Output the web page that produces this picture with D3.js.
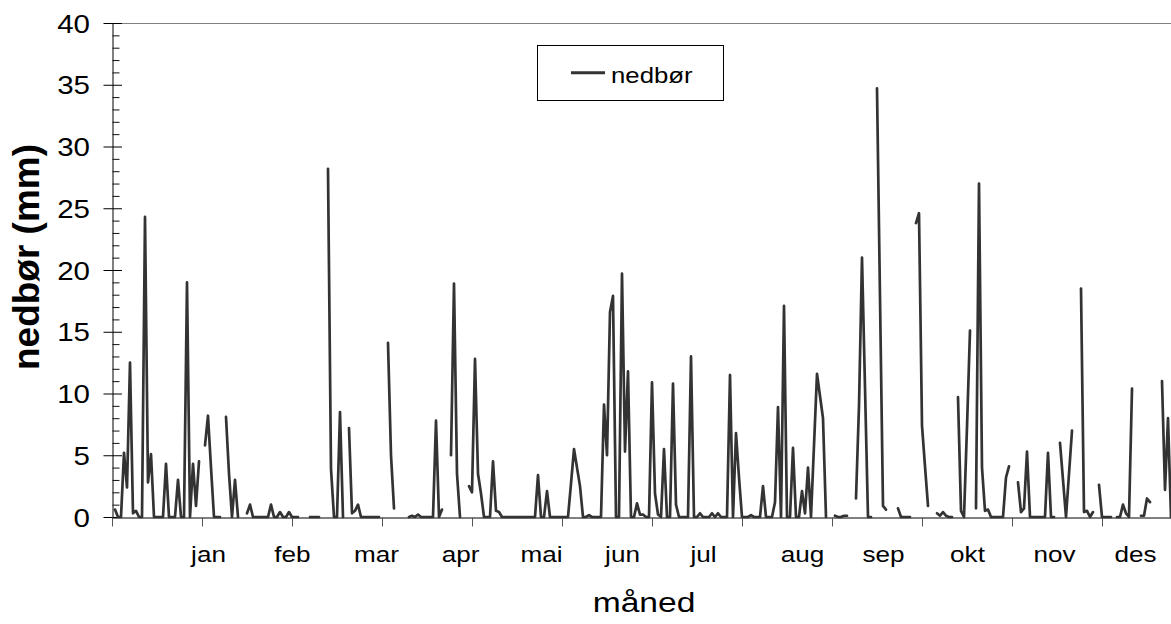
<!DOCTYPE html>
<html><head><meta charset="utf-8">
<script src="https://cdn.jsdelivr.net/npm/d3@7"></script>
<style>
body{margin:0;background:#fff;}
svg{display:block;font-family:Arial,"Liberation Sans",sans-serif;}
</style></head><body>
<svg id="chart" width="1171" height="624"></svg>
<script>
// daily precipitation (mm), null = missing
const nedbor = [
 null,0.6,0,0,5.2,2.4,12.5,0.3,0.5,0,
 0,24.3,2.8,5.1,0,0,0,0,4.3,0,
 0,0,3.0,0,0,19.0,0,4.3,0.9,4.5,
 null,5.8,8.2,4.0,0,0,0,null,8.1,3.5,
 0,3.0,0,null,null,0.3,1.0,0,0,0,
 0,0,0,1.0,0,0,0.4,0,0,0.4,
 0,0,0,null,null,null,0,0,0,0,
 null,null,28.2,3.9,0,0,8.5,0,null,7.2,
 0.3,0.5,1.0,0,0,0,0,0,0,0,
 null,null,14.1,5.0,0.7,null,null,null,null,0,
 0.1,0,0.2,0,0,0,0,0,7.8,0,
 0.6,null,null,5.0,18.9,3.5,0,null,null,2.5,
 2.0,12.8,3.5,1.9,0,0,0,4.5,0.5,0.4,
 0,0,0,0,0,0,0,0,0,0,
 0,0,3.4,0,0,2.1,0,0,0,0,
 0,0,0,2.7,5.5,4.0,2.5,0,0,0.15,
 0,0,0,0,9.1,5.0,16.6,17.9,0,0,
 19.7,5.3,11.8,0,0,1.1,0.2,0.2,0,0,
 10.9,1.9,0.2,0,5.5,0,0,10.8,1.0,0,
 0,0,0,13.0,0,0,0.3,0,0,0,
 0.3,0,0.3,0,0,0,11.5,0,6.8,3.2,
 0,0,0,0.15,0,0,0,2.5,0,0,
 0,1.2,8.9,0,17.1,0,0,5.6,0,0,
 2.1,0.3,4.0,0,5.8,11.6,9.8,8.0,0,null,
 null,0.1,0,0,0.1,0.1,null,null,1.5,9.0,
 21.0,10.5,0,0,null,34.7,17.8,0.9,0.6,null,
 null,null,0.7,0,0,0,0,null,23.8,24.6,
 7.4,4.1,0.9,null,null,0.3,0.1,0.4,0.1,0,
 0,null,9.7,0.5,0,7.3,15.1,null,0.7,27.0,
 4.0,0.5,0.6,0,0,0,0,0,3.2,4.1,
 null,null,2.8,0.4,0.7,5.3,0,0,0,0,
 0,0,5.2,0,0,null,6.0,3.0,0,3.5,
 7.0,null,null,18.5,0.4,0.5,0,0.4,null,2.6,
 0,0,0,0,null,0,0,1.0,0.3,0,
 10.4,null,null,0.1,0.1,1.5,1.2,null,null,null,
 11.0,2.2,8.0,0
];
const seriesName = "nedbør";
const monthLabels = ["jan","feb","mar","apr","mai","jun","jul","aug","sep","okt","nov","des"];
const monthLabelDay = [32,60,88,116,143,170,197,230,257,285,314,341];
const monthTickDay = [0,30,60,90,120,150,180,210,240,270,300,330];
const yMajorTicks = [0,5,10,15,20,25,30,35,40];
const yMinorTicks = d3.range(0,41,1).filter(v => v % 5 !== 0);
const xTitle = "måned";
const yTitle = "nedbør (mm)";

const svg = d3.select("#chart");
const plot = {left:112, right:1171, top:23, bottom:517};
const x = d3.scaleLinear().domain([0, 353]).range([plot.left, plot.right]);
const y = d3.scaleLinear().domain([0, 40]).range([plot.bottom, plot.top]);

// top border of plot area
svg.append("line")
  .attr("x1", plot.left).attr("x2", plot.right)
  .attr("y1", plot.top + 0.5).attr("y2", plot.top + 0.5)
  .attr("stroke", "#808080").attr("stroke-width", 1);

// clip
svg.append("clipPath").attr("id","clip").append("rect")
  .attr("x", plot.left).attr("y", plot.top - 5)
  .attr("width", plot.right - plot.left).attr("height", plot.bottom - plot.top + 10);

// y axis major
const yAx = svg.append("g").attr("transform", `translate(${plot.left + 0.5},0)`)
  .call(d3.axisLeft(y).tickValues(yMajorTicks).tickSize(9).tickSizeOuter(0));
yAx.select(".domain").attr("stroke", "#000");
yAx.selectAll(".tick line").attr("x1", 9.5).attr("stroke", "#000");
const sxY = 1.18;
yAx.selectAll(".tick text")
  .attr("x", -22.5 / sxY).attr("dy", "0.36em")
  .attr("transform", `scale(${sxY},1)`)
  .attr("font-size", 25).attr("font-family", "Arial, 'Liberation Sans', sans-serif")
  .attr("fill", "#000");

// y axis minor
const yMin = svg.append("g").attr("transform", `translate(${plot.left + 0.5},0)`)
  .call(d3.axisRight(y).tickValues(yMinorTicks).tickSize(7).tickFormat(""));
yMin.select(".domain").remove();
yMin.selectAll(".tick line").attr("stroke", "#111");

// x axis with ticks
const xAx = svg.append("g").attr("transform", `translate(0,${plot.bottom + 0.5})`)
  .call(d3.axisBottom(x).tickValues(monthTickDay).tickSize(9).tickSizeOuter(0).tickFormat(""));
xAx.select(".domain").attr("stroke", "#000");
xAx.selectAll(".tick line").attr("stroke", "#555");

// month labels
const sxX = 1.16;
const xLab = svg.append("g").attr("transform", `translate(0,${plot.bottom})`)
  .call(d3.axisBottom(x).tickValues(monthLabelDay).tickSize(0).tickFormat((d,i) => monthLabels[i]));
xLab.select(".domain").remove();
xLab.selectAll(".tick line").remove();
xLab.selectAll(".tick text")
  .attr("y", 44.7).attr("dy", 0)
  .attr("transform", `scale(${sxX},1)`)
  .attr("font-size", 22.5).attr("font-family", "Arial, 'Liberation Sans', sans-serif")
  .attr("fill", "#000");

// data line
const line = d3.line()
  .defined(d => d != null)
  .x((d,i) => x(i))
  .y(d => y(d));
svg.append("path")
  .datum(nedbor)
  .attr("clip-path", "url(#clip)")
  .attr("fill", "none")
  .attr("stroke", "#333333")
  .attr("stroke-width", 2.7)
  .attr("stroke-linejoin", "round")
  .attr("stroke-linecap", "round")
  .attr("d", line);

// axis titles
svg.append("text")
  .attr("transform", `translate(644,612) scale(1.2,1)`)
  .attr("text-anchor", "middle")
  .attr("font-size", 28)
  .attr("fill", "#000")
  .text(xTitle);

svg.append("text")
  .attr("transform", `translate(39,257) rotate(-90)`)
  .attr("text-anchor", "middle")
  .attr("font-size", 37)
  .attr("font-weight", "bold")
  .attr("fill", "#000")
  .text(yTitle);

// legend
const lg = svg.append("g");
lg.append("rect")
  .attr("x", 537.5).attr("y", 45.5).attr("width", 186).attr("height", 55)
  .attr("fill", "#fff").attr("stroke", "#000").attr("stroke-width", 1);
lg.append("line")
  .attr("x1", 571).attr("x2", 605).attr("y1", 72.7).attr("y2", 72.7)
  .attr("stroke", "#333333").attr("stroke-width", 3);
lg.append("text")
  .attr("transform", `translate(611,83.3) scale(1.12,1)`)
  .attr("font-size", 23)
  .attr("fill", "#000")
  .text(seriesName);
</script>
</body></html>
